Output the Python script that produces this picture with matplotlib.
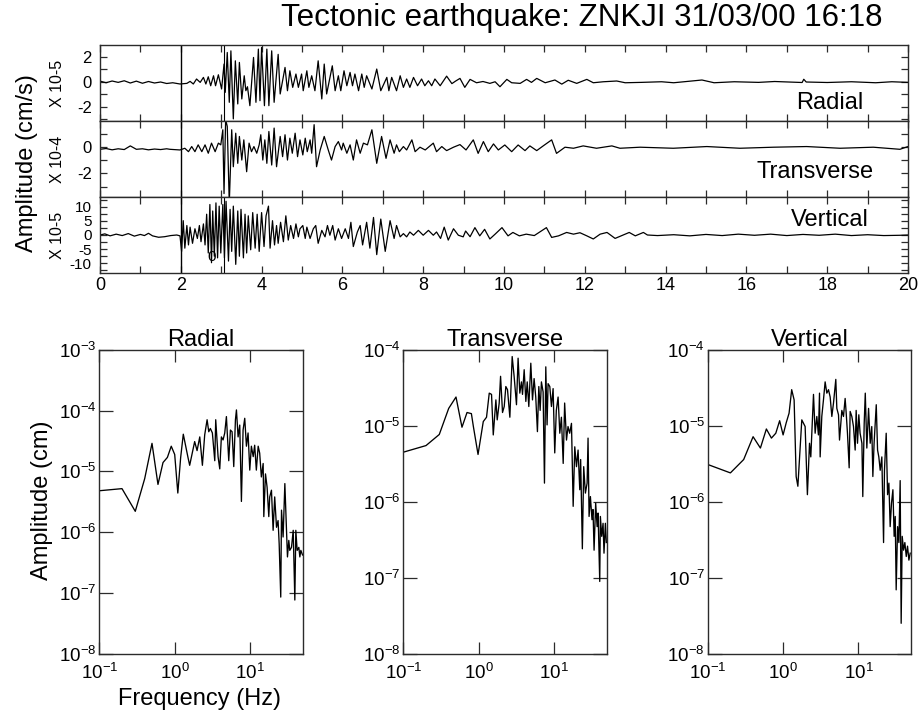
import numpy as np
import matplotlib
matplotlib.use("Agg")
import matplotlib.pyplot as plt
from matplotlib.ticker import MultipleLocator, FixedLocator, NullLocator, LogLocator

plt.rcParams["font.family"] = ["Liberation Sans", "DejaVu Sans"]
plt.rcParams["axes.unicode_minus"] = False

# ── seismograms (time in s, amplitude in the scaled units of each panel) ─────

radial_t = [0.00, 0.15, 0.30, 0.45, 0.60, 0.75, 0.90, 1.05, 1.20, 1.35, 1.50, 1.65,
            1.80, 1.98, 2.15, 2.23, 2.31, 2.39, 2.48, 2.56, 2.62, 2.68, 2.74, 2.81,
            2.86, 2.93, 3.01, 3.07, 3.10, 3.15, 3.20, 3.24, 3.30, 3.35, 3.41, 3.45,
            3.51, 3.57, 3.61, 3.65, 3.71, 3.80, 3.86, 3.92, 3.96, 4.00, 4.07, 4.13,
            4.18, 4.25, 4.31, 4.41, 4.46, 4.58, 4.64, 4.70, 4.77, 4.85, 4.91, 4.99,
            5.03, 5.12, 5.17, 5.24, 5.32, 5.40, 5.49, 5.55, 5.61, 5.75, 5.82, 5.90,
            5.96, 6.04, 6.11, 6.19, 6.25, 6.31, 6.40, 6.48, 6.54, 6.60, 6.73, 6.85,
            6.95, 7.10, 7.15, 7.22, 7.34, 7.43, 7.51, 7.59, 7.67, 7.76, 7.86, 7.96,
            8.04, 8.13, 8.21, 8.29, 8.42, 8.58, 8.71, 8.80, 8.91, 9.03, 9.16, 9.32,
            9.48, 9.65, 9.78, 9.90, 10.07, 10.19, 10.40, 10.56, 10.68, 10.81, 11.02,
            11.26, 11.43, 11.59, 11.80, 12.05, 12.21, 12.46, 12.79, 13.00, 13.40,
            13.90, 14.20, 14.90, 15.20, 15.70, 16.30, 16.70, 17.38, 17.42, 17.48,
            18.00, 18.60, 19.20, 19.60, 20.00]
radial_a = [0.05, -0.08, 0.06, -0.05, 0.08, -0.10, 0.05, -0.12, 0.02, -0.10, -0.02, -0.14,
            -0.08, -0.18, -0.13, 0.03, -0.18, 0.22, -0.05, 0.35, -0.18, 0.40, -0.32, 0.48,
            -0.32, 0.56, -0.58, 1.42, -0.85, 2.35, -1.65, 2.48, -2.98, 1.68, -1.78, 1.55,
            -1.38, 0.48, -0.72, -0.40, -1.92, 1.95, -1.65, 2.62, -1.52, 2.75, -1.92, 2.62,
            -1.92, 2.48, -1.65, 2.20, -0.98, 1.15, -0.72, 0.88, -0.45, 0.62, -0.45, 0.62,
            -0.72, 0.88, -0.45, 0.48, -0.72, 1.68, -1.38, 1.42, -0.98, 1.28, -0.72, 0.48,
            -0.72, 0.88, -0.32, 0.75, -0.32, 0.62, -0.72, 0.62, -0.45, 0.48, -0.58, 1.02,
            -0.72, 0.35, -0.72, 0.35, -0.72, 0.48, -0.45, 0.22, -0.45, 0.35, -0.32, 0.22,
            -0.32, 0.08, -0.32, 0.22, -0.32, 0.45, -0.15, 0.05, 0.27, -0.45, 0.19, -0.08,
            0.02, -0.13, 0.00, -0.40, 0.19, -0.08, -0.13, 0.19, -0.05, 0.27, -0.08,
            0.14, -0.19, 0.12, -0.13, 0.19, -0.08, 0.00, 0.06, -0.08, -0.05,
            0.00, -0.08, 0.14, -0.08, 0.00, -0.05, 0.02, -0.06, 0.20, -0.02,
            -0.06, 0.00, -0.08, 0.00, -0.05]

transverse_t = [0.00, 0.15, 0.30, 0.45, 0.60, 0.75, 0.90, 1.05, 1.20, 1.35, 1.50, 1.65,
                1.73, 1.98, 2.10, 2.19, 2.27, 2.35, 2.43, 2.52, 2.60, 2.68, 2.76, 2.85,
                2.93, 2.99, 3.04, 3.07, 3.11, 3.15, 3.20, 3.26, 3.30, 3.36, 3.41, 3.45,
                3.51, 3.56, 3.63, 3.69, 3.75, 3.81, 3.88, 3.94, 3.98, 4.03, 4.08, 4.13,
                4.18, 4.25, 4.31, 4.37, 4.46, 4.52, 4.58, 4.64, 4.70, 4.76, 4.83, 4.89,
                4.95, 5.02, 5.08, 5.13, 5.20, 5.24, 5.30, 5.36, 5.45, 5.55, 5.65, 5.73,
                5.82, 5.90, 5.98, 6.02, 6.11, 6.19, 6.27, 6.35, 6.44, 6.52, 6.62, 6.73,
                6.85, 6.97, 7.08, 7.18, 7.28, 7.34, 7.41, 7.51, 7.59, 7.72, 7.80, 7.92,
                8.05, 8.25, 8.33, 8.46, 8.58, 8.75, 8.91, 9.06, 9.24, 9.36, 9.49, 9.61,
                9.74, 9.86, 10.02, 10.19, 10.35, 10.52, 10.64, 10.81, 10.97, 11.18,
                11.30, 11.51, 11.72, 11.96, 12.29, 12.67, 12.87, 13.37, 14.19, 15.02,
                15.84, 16.67, 17.49, 18.32, 19.14, 19.80, 20.00]
transverse_a = [-0.16, -0.10, -0.20, -0.12, -0.18, 0.10, -0.16, -0.12, -0.20, -0.14, -0.18, -0.12,
                -0.16, -0.21, -0.08, -0.34, 0.05, -0.34, 0.18, -0.34, 0.18, -0.46, 0.31, -0.34,
                0.31, 0.18, 1.33, -3.54, 2.10, 1.59, -4.30, 1.33, -1.49, 1.07, -1.23, 0.82,
                -0.98, 0.56, -1.87, 0.31, -0.34, 0.05, -0.46, 0.18, 0.95, -0.98, 0.56, -1.23,
                1.20, -1.36, 1.46, -1.49, 0.82, -0.72, 0.95, -0.98, 0.69, -0.46, 1.07, -0.72,
                0.56, -0.59, 0.69, -0.34, 0.56, -0.46, 1.72, -1.49, -0.21, 0.82, -0.21, -0.98,
                0.05, 0.43, -0.21, 0.31, -0.46, 0.18, -0.98, 0.56, -0.46, 0.31, 0.18, 1.33,
                -1.23, 0.82, -0.85, 0.56, -0.46, 0.18, -0.34, 0.05, -0.21, 0.56, -0.34, 0.00,
                -0.21, 0.31, -0.34, 0.05, -0.26, 0.00, 0.20, -0.21, 0.56, -0.47, 0.43, -0.34,
                0.25, -0.21, 0.17, -0.34, 0.17, -0.26, 0.10, -0.26, 0.10, 0.56,
                -0.47, 0.00, -0.08, 0.10, -0.08, 0.10, -0.08, 0.00, -0.08, 0.05,
                -0.08, 0.00, 0.05, -0.08, 0.00, -0.16, 0.05]

vertical_t = [0.00, 0.12, 0.25, 0.40, 0.55, 0.70, 0.85, 1.00, 1.10, 1.20, 1.30, 1.45,
              1.60, 1.75, 1.90, 1.98, 2.02, 2.06, 2.10, 2.15, 2.19, 2.23, 2.29, 2.35,
              2.41, 2.46, 2.50, 2.56, 2.60, 2.64, 2.68, 2.72, 2.76, 2.79, 2.83, 2.87,
              2.91, 2.95, 2.99, 3.04, 3.08, 3.12, 3.18, 3.22, 3.26, 3.30, 3.36, 3.41,
              3.45, 3.49, 3.55, 3.59, 3.63, 3.67, 3.73, 3.78, 3.84, 3.89, 3.94, 4.00,
              4.06, 4.11, 4.17, 4.21, 4.27, 4.32, 4.37, 4.41, 4.47, 4.54, 4.60, 4.66,
              4.72, 4.79, 4.85, 4.91, 4.95, 5.02, 5.08, 5.12, 5.20, 5.28, 5.34, 5.40,
              5.49, 5.57, 5.63, 5.69, 5.76, 5.82, 5.90, 5.98, 6.07, 6.15, 6.21, 6.27,
              6.37, 6.44, 6.50, 6.60, 6.68, 6.77, 6.85, 6.95, 7.06, 7.18, 7.28, 7.34,
              7.43, 7.51, 7.59, 7.67, 7.76, 7.88, 8.00, 8.13, 8.25, 8.33, 8.43, 8.52,
              8.62, 8.75, 8.81, 8.87, 8.99, 9.05, 9.16, 9.28, 9.40, 9.52, 9.65, 9.78,
              9.95, 10.10, 10.22, 10.38, 10.55, 10.75, 11.05, 11.18, 11.35, 11.55,
              11.72, 11.88, 12.05, 12.21, 12.38, 12.55, 12.75, 12.90, 13.10, 13.25,
              13.45, 13.55, 13.80, 14.20, 14.60, 15.00, 15.40, 15.80, 16.20, 16.60,
              17.00, 17.40, 17.80, 18.20, 18.60, 19.00, 19.40, 19.80, 20.00]
vertical_a = [0.0, 0.4, -0.3, 0.3, -0.2, 0.5, -0.4, 0.2, -0.2, 0.6, -0.3, -0.8,
              -0.6, -0.2, 0.0, -0.3, -5.78, 5.05, -4.64, 3.34, -3.50, 2.77, -2.93, 2.20,
              -1.22, 3.34, -2.36, 3.91, -3.50, 7.33, -6.35, 10.75, -9.78, 8.47, -7.49, 11.32,
              -8.06, 10.18, -6.35, 10.75, -8.06, 11.89, -9.20, 9.04, -5.78, 10.18, -10.35, 8.47,
              -7.49, 9.04, -8.06, 7.33, -6.35, 6.76, -5.21, 7.90, -4.64, 7.33, -5.78, 7.90,
              -4.07, 6.76, 10.18, -4.64, 5.05, -3.50, 3.34, -2.93, 4.48, -2.36, 6.76, -1.79,
              3.34, -1.22, 3.91, -0.65, 2.20, 3.34, -1.22, 2.77, -1.22, 2.20, 3.34, -2.93,
              1.63, -0.65, 3.34, -0.08, 3.34, -1.79, 2.20, -1.22, 2.20, -1.22, 4.48, -4.07,
              1.06, 3.34, -3.50, 4.48, -4.64, 6.19, -6.92, 5.62, -5.78, 5.05, -1.22, 3.34,
              -0.65, 0.49, -0.65, 1.06, -0.08, 1.63, -0.08, 1.63, -0.08, 1.06, -1.22, 2.77,
              -1.79, 2.20, 1.06, -0.08, -0.65, 1.40, -0.60, 2.60, -0.30, 2.00, -1.40, 0.30,
              2.60, -0.30, 0.90, -0.30, 0.30, -0.20, 2.60, -0.85, -0.30, 0.90,
              0.30, 0.80, -0.30, -1.40, 0.30, 0.90, -1.20, -0.30, 0.90, -0.30,
              0.90, 0.00, -0.20, 0.10, -0.30, 0.20, -0.20, 0.30, -0.10, 0.30,
              -0.20, 0.20, -0.10, 0.30, -0.20, 0.10, -0.20, -0.10, 0.00]

# ── amplitude spectra (frequency in Hz, amplitude in cm) ─────────────────────

radial_f = [0.1, 0.2, 0.3, 0.4, 0.5, 0.6, 0.7, 0.8, 0.9, 1.0, 1.1, 1.2, 1.3, 1.4, 1.5,
            1.58, 1.84, 1.98, 2.15, 2.33, 2.50, 2.69, 2.83, 2.97, 3.16, 3.40, 3.50,
            3.76, 3.96, 4.16, 4.38, 4.61, 4.85, 5.21, 5.48, 5.77, 6.07, 6.39, 6.59,
            6.93, 7.29, 7.67, 8.07, 8.49, 8.94, 9.40, 9.90, 10.4, 11.0, 11.5, 12.1,
            12.8, 13.4, 14.1, 14.9, 15.2, 16.0, 16.8, 17.7, 18.2, 19.2, 20.2, 21.2,
            22.4, 23.5, 24.3, 25.5, 26.1, 27.4, 28.9, 30.3, 31.3, 32.6, 33.6, 35.4,
            37.3, 39.2, 40.4, 42.1, 44.3, 45.7, 47.1, 49.6]
radial_amp = [4.8e-6, 5.2e-6, 2.2e-6, 7.6e-6, 2.9e-5, 6.1e-6, 1.4e-5, 1.7e-5, 2.6e-5, 1.9e-5,
              4.4e-6, 1.7e-5, 4.1e-5, 2.6e-5, 1.7e-5, 1.26e-5, 3.1e-5, 2.2e-5, 3.7e-5, 1.26e-5,
              4.0e-5, 7.1e-5, 4.5e-5, 5.1e-5, 4.3e-5, 1.5e-5, 7.1e-5, 1.75e-5, 1.1e-5, 3.7e-5,
              3.3e-5, 4.3e-5, 8.0e-5, 1.5e-5, 4.8e-5, 4.5e-5, 1.2e-5, 7.1e-5, 1.03e-4, 3.7e-5,
              5.8e-5, 3.2e-6, 4.8e-5, 7.5e-5, 2.6e-5, 4.3e-5, 1.05e-5, 2.6e-5, 1.75e-5, 2.7e-5,
              1.05e-5, 2.6e-5, 2.0e-5, 8.1e-6, 1.35e-5, 1.8e-6, 9.1e-6, 5.5e-6, 1.8e-6, 3.8e-6,
              4.9e-6, 1.07e-6, 3.8e-6, 1.2e-6, 1.55e-6, 6.4e-7, 8.5e-8, 2.3e-6, 8.3e-7, 6.3e-6,
              1.2e-6, 3.9e-7, 7.3e-7, 5.0e-7, 5.6e-7, 1.07e-6, 7.6e-8, 1.07e-6, 5.0e-7, 5.6e-7,
              3.9e-7, 5.0e-7, 4.2e-7]

transverse_f = [0.1, 0.2, 0.3, 0.4, 0.5, 0.6, 0.7, 0.8, 0.85, 0.98, 1.15, 1.27, 1.38, 1.48,
                1.56, 1.69, 1.76, 1.87, 1.95, 2.07, 2.18, 2.29, 2.41, 2.59, 2.78, 2.95,
                3.17, 3.33, 3.51, 3.69, 3.81, 4.01, 4.22, 4.40, 4.62, 4.91, 5.17, 5.43,
                5.71, 6.01, 6.27, 6.53, 6.79, 7.15, 7.45, 7.76, 8.07, 8.32, 8.77, 9.22,
                9.70, 10.2, 10.7, 11.3, 11.9, 12.5, 13.2, 13.8, 14.6, 15.3, 16.1, 17.0,
                17.9, 18.8, 19.8, 20.8, 21.9, 22.5, 23.7, 24.7, 26.0, 27.4, 28.2, 29.1,
                30.3, 31.8, 32.8, 33.9, 35.6, 37.2, 38.3, 40.3, 41.1, 42.8, 44.6, 45.9,
                47.9, 49.3]
transverse_amp = [4.5e-6, 5.5e-6, 7.7e-6, 1.7e-5, 2.4e-5, 9.6e-6, 1.5e-5, 1.45e-5, 9.8e-6, 4.2e-6,
                  1.14e-5, 1.3e-5, 2.7e-5, 2.6e-5, 7.6e-6, 2.2e-5, 1.2e-5, 2.0e-5, 4.5e-5, 1.5e-5,
                  1.8e-5, 3.3e-5, 3.0e-5, 1.3e-5, 8.2e-5, 4.5e-5, 1.9e-5, 7.8e-5, 2.7e-5, 3.8e-5,
                  2.6e-5, 5.5e-5, 2.1e-5, 3.8e-5, 1.8e-5, 6.7e-5, 2.2e-5, 4.2e-5, 2.4e-5, 8.4e-6,
                  3.3e-5, 1.6e-5, 3.8e-5, 2.8e-5, 1.76e-6, 6.0e-5, 1.03e-5, 3.6e-5, 3.3e-5, 1.8e-5,
                  3.1e-5, 4.4e-6, 1.6e-5, 2.4e-5, 8.0e-6, 1.3e-5, 3.2e-6, 2.0e-5, 6.5e-6, 9.8e-6,
                  8.0e-6, 1.08e-5, 8.7e-7, 5.3e-6, 2.9e-6, 4.8e-6, 1.44e-6, 3.6e-6, 2.4e-7, 2.9e-6,
                  1.3e-6, 1.76e-6, 6.9e-6, 6.4e-7, 1.17e-6, 5.8e-7, 7.9e-7, 2.3e-7, 9.6e-7, 4.7e-7,
                  7.1e-7, 8.9e-8, 6.4e-7, 3.5e-7, 5.2e-7, 2.1e-7, 5.2e-7, 2.9e-7]

vertical_f = [0.1, 0.2, 0.3, 0.4, 0.5, 0.6, 0.7, 0.8, 0.9, 1.0, 1.1, 1.2, 1.3, 1.4,
              1.49, 1.57, 1.77, 1.96, 2.10, 2.24, 2.33, 2.53, 2.66, 2.80, 2.94, 3.04,
              3.10, 3.26, 3.43, 3.61, 3.80, 4.00, 4.21, 4.43, 4.66, 5.00, 5.16, 5.43,
              5.60, 5.83, 6.01, 6.32, 6.65, 6.86, 7.14, 7.52, 7.75, 8.16, 8.58, 9.03,
              9.31, 9.70, 10.1, 10.5, 11.1, 11.4, 11.9, 12.3, 12.9, 13.6, 14.3, 15.0,
              15.5, 16.1, 17.2, 17.9, 18.6, 19.4, 20.4, 21.5, 22.1, 23.3, 24.3, 25.3,
              26.3, 27.4, 28.6, 29.7, 30.7, 31.6, 33.0, 34.3, 35.7, 36.8, 38.0, 39.6,
              41.2, 43.0, 44.7, 46.6, 48.5]
vertical_amp = [3.1e-6, 2.4e-6, 3.6e-6, 7.2e-6, 5.1e-6, 9.1e-6, 6.9e-6, 8.0e-6, 1.17e-5, 7.6e-6,
                1.1e-5, 1.47e-5, 3.0e-5, 2.2e-5, 2.15e-6, 1.6e-6, 1.2e-5, 9.8e-6, 1.24e-6, 5.9e-6,
                3.9e-6, 2.6e-5, 8.0e-6, 1.33e-5, 7.6e-6, 2.7e-5, 3.9e-6, 1.33e-5, 2.2e-5, 3.8e-5,
                2.7e-5, 3.0e-5, 2.4e-5, 1.33e-5, 2.0e-5, 4.1e-5, 1.7e-5, 1.4e-5, 6.5e-6, 1.08e-5,
                1.6e-5, 1.33e-5, 2.3e-5, 1.5e-5, 8.0e-6, 2.8e-6, 1.55e-5, 1.33e-5, 9.8e-6, 4.8e-6,
                1.6e-5, 5.9e-6, 1.4e-5, 8.0e-6, 5.9e-6, 1.17e-6, 1.08e-5, 2.7e-5, 5.1e-6, 1.7e-5,
                5.9e-6, 9.8e-6, 2.15e-6, 5.9e-6, 1.9e-5, 4.8e-6, 3.9e-6, 2.6e-6, 3.9e-6, 2.9e-7,
                2.6e-6, 8.0e-6, 1.24e-6, 1.76e-6, 4.7e-7, 9.6e-7, 1.44e-6, 3.5e-7, 6.4e-7, 6.9e-8,
                4.7e-7, 2.9e-7, 1.9e-6, 2.5e-8, 3.5e-7, 2.3e-7, 2.9e-7, 1.9e-7, 2.6e-7, 1.7e-7,
                2.1e-7]

components = ["Radial", "Transverse", "Vertical"]
scale_labels = ["X 10-5", "X 10-4", "X 10-5"]
p_arrival = 2.0
s_arrival = 3.07

SPINE = "#2b2b2b"


def style_box(ax, lw=1.0):
    for s in ax.spines.values():
        s.set_color(SPINE)
        s.set_linewidth(lw)


fig = plt.figure(figsize=(9.19, 7.13), dpi=100)
W, H = 919.0, 713.0

# ── seismogram panels ─────────────────────────────────────────────────────────
traces = [(radial_t, radial_a), (transverse_t, transverse_a), (vertical_t, vertical_a)]
ylims = [(-3.15, 2.95), (-3.8, 2.0), (-13.4, 13.4)]
majors = [[-2, 0, 2], [-2, 0], [-10, -5, 0, 5, 10]]
minors = [[-3, -1, 1], [-3, -1, 1], [-12.5, -7.5, -2.5, 2.5, 7.5, 12.5]]
tops = [45, 121, 197]
label_pos = [(0.903, 0.24), (0.885, 0.33), (0.903, 0.70)]

for i, (t, a) in enumerate(traces):
    ax = fig.add_axes([100 / W, 1 - (tops[i] + 76) / H, 808 / W, 76 / H])
    ax.plot(t, a, color="black", lw=0.9)
    ax.axvline(p_arrival, color="black", lw=1.0)
    if i != 1:
        ax.axvline(s_arrival, color="black", lw=0.8)
    ax.set_xlim(0, 20)
    ax.set_ylim(*ylims[i])
    ax.xaxis.set_major_locator(MultipleLocator(2))
    ax.xaxis.set_minor_locator(MultipleLocator(1))
    ax.yaxis.set_major_locator(FixedLocator(majors[i]))
    ax.yaxis.set_minor_locator(FixedLocator(minors[i]))
    ax.tick_params(which="both", direction="in", top=True, right=True,
                   length=5, width=0.9, color=SPINE)
    ax.tick_params(axis="y", labelsize=12 if i < 2 else 11, pad=6)
    ax.tick_params(axis="x", labelsize=13, pad=3)
    if i < 2:
        ax.tick_params(axis="x", labelbottom=False)
    ax.set_yticklabels([str(v) for v in majors[i]])
    style_box(ax)
    ax.text(*label_pos[i], components[i], transform=ax.transAxes,
            ha="center", va="center", fontsize=17)
    fig.text(57 / W, 1 - (tops[i] + 38) / H, scale_labels[i], rotation=90,
             ha="center", va="center", fontsize=11.5)
    if i == 2:
        ax.text(2.76, -7.8, "0", ha="center", va="center", fontsize=11)

fig.text(27 / W, 1 - 163 / H, "Amplitude (cm/s)", rotation=90,
         ha="center", va="center", fontsize=17)
fig.text(582 / W, 1 - 18 / H, "Tectonic earthquake: ZNKJI 31/03/00 16:18",
         ha="center", va="center", fontsize=22.5)

# ── spectra ──────────────────────────────────────────────────────────────────
spectra = [(radial_f, radial_amp), (transverse_f, transverse_amp), (vertical_f, vertical_amp)]
lefts = [99.3, 403.3, 707.7]
top_exp = [-3, -4, -4]

for i, (f, amp) in enumerate(spectra):
    ax = fig.add_axes([lefts[i] / W, 1 - 653.5 / H, 203.5 / W, 303.5 / H])
    ax.plot(f, amp, color="black", lw=0.95)
    ax.set_xscale("log")
    ax.set_yscale("log")
    ax.set_xlim(0.1, 50)
    ax.set_ylim(1e-8, 10.0 ** top_exp[i])
    ax.xaxis.set_major_locator(LogLocator(base=10, numticks=10))
    ax.yaxis.set_major_locator(LogLocator(base=10, numticks=10))
    ax.xaxis.set_minor_locator(NullLocator())
    ax.yaxis.set_minor_locator(NullLocator())
    ax.tick_params(axis="y", which="major", direction="in", left=True, right=True,
                   length=10, width=0.9, color=SPINE, labelsize=13.5, pad=2)
    ax.tick_params(axis="x", which="major", direction="in", top=True, bottom=True,
                   length=8.5, width=0.9, color=SPINE, labelsize=13.5, pad=7)
    style_box(ax)
    ax.set_title(components[i], fontsize=17, pad=3)

fig.text(42 / W, 1 - 500 / H, "Amplitude (cm)", rotation=90,
         ha="center", va="center", fontsize=17)
fig.text(200 / W, 1 - 699 / H, "Frequency (Hz)", ha="center", va="center", fontsize=17)

fig.savefig("out.png", dpi=100)
